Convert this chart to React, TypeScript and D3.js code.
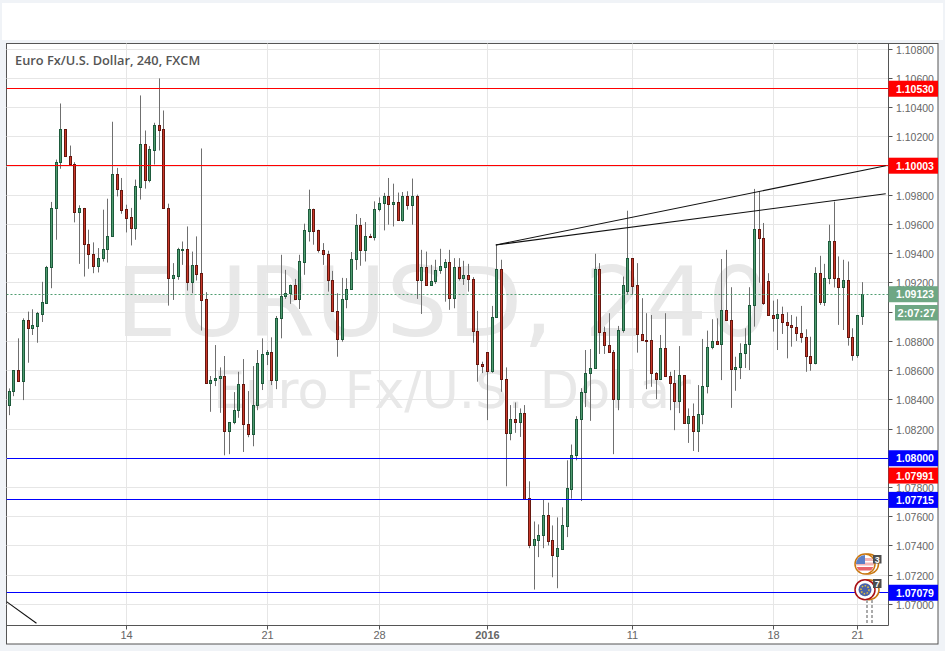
import * as d3 from "d3";

const opens = [
  1.08359, 1.08455, 1.08604, 1.08524, 1.0894, 1.08887, 1.08901, 1.08986, 1.09061, 1.09306,
  1.09707, 1.10023, 1.10251, 1.10064, 1.10009, 1.0968, 1.09707, 1.09466, 1.09397, 1.09313,
  1.0937, 1.09432, 1.09519, 1.09942, 1.09832, 1.09702, 1.09645, 1.09574, 1.09855, 1.10148,
  1.09903, 1.10109, 1.10278, 1.10251, 1.09707, 1.0923, 1.09244, 1.09422, 1.09432, 1.09203,
  1.09318, 1.09263, 1.09084, 1.0851, 1.0853, 1.08545, 1.08561, 1.08181, 1.08242, 1.08325,
  1.08506, 1.08231, 1.0816, 1.08359, 1.0851, 1.08709, 1.08725, 1.0853, 1.08956, 1.09107,
  1.09125, 1.0918, 1.09089, 1.09343, 1.09553, 1.097, 1.09558, 1.09422, 1.09397, 1.09219,
  1.09007, 1.08812, 1.09089, 1.09158, 1.09364, 1.09592, 1.09422, 1.09521, 1.09512, 1.097,
  1.09741, 1.09791, 1.09738, 1.09748, 1.09626, 1.09791, 1.09732, 1.09791, 1.09217, 1.09308,
  1.09182, 1.0921, 1.09288, 1.09306, 1.09343, 1.09093, 1.09308, 1.0923, 1.09254, 1.09226,
  1.08867, 1.08645, 1.08725, 1.08592, 1.08965, 1.0929, 1.0854, 1.0817, 1.08266, 1.08242,
  1.08307, 1.07723, 1.07405, 1.07437, 1.07469, 1.07607, 1.07435, 1.07329, 1.07377, 1.07535,
  1.07789, 1.08016, 1.08266, 1.08448, 1.08581, 1.08612, 1.0929, 1.0886, 1.08773, 1.08725,
  1.084, 1.08874, 1.09141, 1.0937, 1.0918, 1.08849, 1.08808, 1.08808, 1.08581, 1.0854,
  1.08753, 1.08558, 1.08513, 1.08386, 1.08568, 1.08235, 1.08286, 1.08181, 1.08297, 1.08489,
  1.08757, 1.08801, 1.08778, 1.09014, 1.08945, 1.08606, 1.0862, 1.08718, 1.08778, 1.09045,
  1.09563, 1.09508, 1.09213, 1.0898, 1.08956, 1.08986, 1.08931, 1.08911, 1.08897, 1.08856,
  1.08828, 1.08695, 1.08652, 1.09267, 1.09064, 1.0923, 1.09487, 1.0923, 1.09169, 1.09219,
  1.08828, 1.08702, 1.0897,
];

const highs = [
  1.08478, 1.08604, 1.08821, 1.08958, 1.09004, 1.0902, 1.09002, 1.09208, 1.09317, 1.09755,
  1.10045, 1.10429, 1.10251, 1.10141, 1.10027, 1.09732, 1.09714, 1.09565, 1.09478, 1.09439,
  1.09702, 1.09777, 1.10304, 1.09988, 1.09919, 1.09736, 1.09714, 1.09908, 1.10484, 1.10244,
  1.10137, 1.10297, 1.10601, 1.10381, 1.09743, 1.09336, 1.09441, 1.09484, 1.09587, 1.09415,
  1.09519, 1.10121, 1.09137, 1.08563, 1.08775, 1.08622, 1.087, 1.08245, 1.08453, 1.08592,
  1.08679, 1.0846, 1.08631, 1.08741, 1.08821, 1.08741, 1.08828, 1.08974, 1.09393, 1.0929,
  1.09189, 1.09228, 1.09393, 1.09606, 1.09839, 1.09709, 1.09565, 1.09473, 1.09421, 1.09283,
  1.0913, 1.09235, 1.09233, 1.09412, 1.09672, 1.09645, 1.09617, 1.09537, 1.09759, 1.09786,
  1.09817, 1.09919, 1.0988, 1.09819, 1.09823, 1.09828, 1.09915, 1.09805, 1.09427, 1.09415,
  1.09324, 1.09359, 1.09434, 1.09364, 1.09427, 1.0937, 1.0937, 1.09352, 1.09331, 1.0924,
  1.09009, 1.08661, 1.08725, 1.09043, 1.09462, 1.09359, 1.08622, 1.08364, 1.08382, 1.08341,
  1.08364, 1.07842, 1.07567, 1.07547, 1.07719, 1.07696, 1.0754, 1.07595, 1.07664, 1.07986,
  1.08094, 1.08288, 1.0848, 1.08741, 1.08748, 1.094, 1.09336, 1.08901, 1.08993, 1.08741,
  1.08906, 1.09244, 1.09695, 1.0937, 1.09336, 1.09096, 1.08993, 1.08981, 1.0859, 1.08844,
  1.08993, 1.08592, 1.08604, 1.08768, 1.08568, 1.08341, 1.08375, 1.08501, 1.08817, 1.08874,
  1.08952, 1.08958, 1.09364, 1.09427, 1.09171, 1.08695, 1.08787, 1.0889, 1.09171, 1.09844,
  1.09828, 1.09611, 1.09267, 1.09079, 1.09089, 1.09038, 1.09, 1.08981, 1.0897, 1.09043,
  1.08883, 1.08832, 1.09308, 1.09386, 1.09331, 1.09599, 1.09757, 1.09382, 1.09359, 1.09347,
  1.0889, 1.08981, 1.09206,
];

const lows = [
  1.08295, 1.08425, 1.08524, 1.08398, 1.08654, 1.08844, 1.08791, 1.08933, 1.09057, 1.09164,
  1.09496, 1.09982, 1.10064, 1.10009, 1.09615, 1.09331, 1.09244, 1.09297, 1.09267, 1.09272,
  1.09347, 1.0934, 1.09519, 1.09793, 1.09674, 1.09546, 1.09457, 1.09496, 1.09771, 1.09846,
  1.09889, 1.10011, 1.10107, 1.09707, 1.09045, 1.09084, 1.09222, 1.09324, 1.09148, 1.0913,
  1.09217, 1.08874, 1.0851, 1.08318, 1.08494, 1.08311, 1.0802, 1.08028, 1.08233, 1.08277,
  1.08043, 1.08144, 1.08082, 1.08329, 1.08467, 1.08638, 1.08501, 1.08473, 1.08821, 1.09091,
  1.09057, 1.09084, 1.09022, 1.09256, 1.09484, 1.09462, 1.09408, 1.09324, 1.09141, 1.09004,
  1.08695, 1.08798, 1.09027, 1.09158, 1.0929, 1.09318, 1.09347, 1.09515, 1.09491, 1.0969,
  1.0956, 1.09599, 1.09587, 1.09628, 1.0962, 1.09702, 1.09599, 1.09091, 1.08988, 1.09182,
  1.09182, 1.09194, 1.09263, 1.09072, 1.09016, 1.09027, 1.09217, 1.09187, 1.09141, 1.08791,
  1.08524, 1.08583, 1.08261, 1.08585, 1.08965, 1.08455, 1.07808, 1.08123, 1.08174, 1.08146,
  1.07719, 1.07384, 1.07101, 1.07323, 1.07384, 1.07403, 1.07185, 1.0711, 1.07377, 1.0746,
  1.07723, 1.07986, 1.07707, 1.0835, 1.08256, 1.08612, 1.08714, 1.08714, 1.08721, 1.08028,
  1.08329, 1.0886, 1.09125, 1.09119, 1.08723, 1.08805, 1.08473, 1.08489, 1.08405, 1.08535,
  1.08558, 1.08329, 1.08192, 1.08309, 1.08235, 1.08105, 1.0805, 1.08043, 1.08233, 1.08444,
  1.08746, 1.08778, 1.08535, 1.08945, 1.08345, 1.08462, 1.08542, 1.08618, 1.08604, 1.08901,
  1.09201, 1.0905, 1.08977, 1.08867, 1.08741, 1.08851, 1.08684, 1.08764, 1.08803, 1.08791,
  1.08592, 1.08599, 1.08643, 1.0905, 1.09043, 1.09192, 1.09169, 1.08913, 1.08878, 1.08771,
  1.08668, 1.08688, 1.08913,
];

const closes = [
  1.0846, 1.08604, 1.08524, 1.0894, 1.08887, 1.08906, 1.08988, 1.09068, 1.09308, 1.09707,
  1.10023, 1.10251, 1.10064, 1.10009, 1.0968, 1.09707, 1.09463, 1.09397, 1.09313, 1.0937,
  1.09432, 1.09519, 1.09942, 1.09841, 1.09697, 1.09642, 1.09574, 1.0986, 1.10148, 1.09903,
  1.10114, 1.10278, 1.10246, 1.09707, 1.09233, 1.09249, 1.09427, 1.09432, 1.09203, 1.09318,
  1.09258, 1.09079, 1.0851, 1.08533, 1.08547, 1.08561, 1.08181, 1.08245, 1.08327, 1.08506,
  1.08228, 1.0816, 1.08362, 1.0865, 1.08712, 1.08725, 1.0853, 1.08958, 1.09109, 1.0913,
  1.0918, 1.09084, 1.09345, 1.09558, 1.097, 1.09553, 1.09422, 1.09395, 1.09217, 1.09004,
  1.08812, 1.09089, 1.09158, 1.09364, 1.09592, 1.09422, 1.09521, 1.09515, 1.097, 1.09741,
  1.09791, 1.09738, 1.09748, 1.09628, 1.09791, 1.09732, 1.09791, 1.09217, 1.09308, 1.09182,
  1.09213, 1.09288, 1.09311, 1.09343, 1.09091, 1.09308, 1.0923, 1.09254, 1.09226, 1.08867,
  1.0864, 1.08626, 1.08592, 1.08965, 1.0929, 1.0854, 1.0817, 1.08266, 1.08242, 1.08307,
  1.07719, 1.07405, 1.07442, 1.07469, 1.07607, 1.07432, 1.07332, 1.07382, 1.07538, 1.07792,
  1.08016, 1.08266, 1.08451, 1.08581, 1.08615, 1.0929, 1.0886, 1.08771, 1.08723, 1.084,
  1.08876, 1.09185, 1.0937, 1.09176, 1.08844, 1.08805, 1.08803, 1.08581, 1.0854, 1.08753,
  1.08558, 1.0851, 1.08386, 1.08568, 1.08235, 1.08286, 1.08181, 1.083, 1.08492, 1.0876,
  1.08801, 1.08778, 1.09014, 1.08945, 1.08606, 1.08622, 1.08718, 1.0878, 1.09048, 1.09563,
  1.09505, 1.09059, 1.08977, 1.08956, 1.08986, 1.08928, 1.08908, 1.08894, 1.08853, 1.08826,
  1.08695, 1.08652, 1.09267, 1.09064, 1.09233, 1.09487, 1.0923, 1.09171, 1.09219, 1.08826,
  1.08702, 1.08974, 1.09123,
];

const priceTicks = [
  1.108, 1.106, 1.104, 1.102, 1.1, 1.098, 1.096, 1.094, 1.092, 1.09, 1.088, 1.086, 1.084,
  1.082, 1.08, 1.078, 1.076, 1.074, 1.072, 1.07,
];
const timeTickLabels = ["14", "21", "28", "2016", "11", "18", "21"];
const timeTickIndexes = [25, 55, 79, 102, 133, 163, 181];

const levelPrices = [1.1053, 1.10003, 1.08, 1.07715, 1.07079];
const levelColors = ["#ff0000", "#ff0000", "#0000ff", "#0000ff", "#0000ff"];
const lastPrice = 1.09123;
const prevDayPrice = 1.07991;

// trend lines, as [bar index, price] pairs
const trendLines = [
  [[103.8, 1.0946], [187, 1.10003]],
  [[103.8, 1.0946], [187, 1.09811]],
  [[-0.6, 1.07018], [5.8, 1.0687]],
];

const plot = { left: 6.5, right: 888.5, top: 43.5, bottom: 625.5 };
const green = "#4f9c70";
const greenEdge = "#1d5a3b";
const red = "#c9392a";
const redEdge = "#66170f";
const wick = "#6f6f6f";
const axisColor = "#555555";
const gridColor = "#e6e6e6";
const labelFont = "'Liberation Sans', Arial, sans-serif";
const watermarkFont = "'DejaVu Sans', sans-serif";

const x = d3.scaleLinear().domain([0, 182]).range([9.3, 862.3]);
const y = d3.scaleLinear().domain([1.07, 1.108]).range([604.3, 49.3]);
const line = d3
  .line<number[]>()
  .x((d) => x(d[0]))
  .y((d) => y(d[1]));

const snapX = (i: number) => Math.floor(x(i)) + 0.5;
const snapY = (p: number) => Math.floor(y(p)) + 0.5;
const fmt = d3.format(".5f");

function PriceBox({ price, color, dy = 0 }: { price: number; color: string; dy?: number }) {
  const cy = y(price) + dy;
  return (
    <g>
      <rect x={plot.right} y={cy - 8} width={49.5} height={16} fill={color} />
      <text
        x={896}
        y={cy + 4}
        fill="white"
        fontFamily={labelFont}
        fontSize="10.5"
        fontWeight="bold"
      >
        {fmt(price)}
      </text>
    </g>
  );
}

export default function App() {
  return (
    <svg
      width="945"
      height="651"
      style={{ position: "absolute", left: 0, top: 0, display: "block", background: "#f0f3f7" }}
    >
      <defs>
        <clipPath id="plot">
          <rect
            x={plot.left}
            y={plot.top}
            width={plot.right - plot.left}
            height={plot.bottom - plot.top}
          />
        </clipPath>
        <clipPath id="flag">
          <circle cx="865" cy="564" r="9" />
        </clipPath>
      </defs>

      {/* top band and chart frame */}
      <rect x="2" y="3" width="941" height="37" fill="white" />
      <rect x="6.5" y="43.5" width="931.5" height="600.5" fill="white" stroke={axisColor} />

      {/* watermark */}
      <text x="115.5" y="336" fill="#e8e8e8" fontFamily={watermarkFont} fontSize="97">
        EURUSD, 240
      </text>
      <text x="213" y="408" fill="#e8e8e8" fontFamily={watermarkFont} fontSize="51">
        Euro Fx/U.S. Dollar
      </text>

      {/* grid */}
      {priceTicks.map((t) => (
        <line
          key={t}
          x1={plot.left}
          x2={plot.right}
          y1={snapY(t)}
          y2={snapY(t)}
          stroke={gridColor}
        />
      ))}
      {timeTickIndexes.map((i) => (
        <line
          key={i}
          x1={snapX(i)}
          x2={snapX(i)}
          y1={plot.top}
          y2={plot.bottom}
          stroke={gridColor}
        />
      ))}

      <g clipPath="url(#plot)">
        {/* candles */}
        {opens.map((o, i) => {
          const c = closes[i];
          const up = c >= o;
          const top = snapY(Math.max(o, c));
          const bottom = snapY(Math.min(o, c));
          return (
            <g key={i}>
              <line
                x1={snapX(i)}
                x2={snapX(i)}
                y1={y(highs[i])}
                y2={y(lows[i])}
                stroke={wick}
              />
              <rect
                x={snapX(i) - 1}
                y={top}
                width={2}
                height={Math.max(bottom - top, 1)}
                fill={up ? green : red}
                stroke={up ? greenEdge : redEdge}
              />
            </g>
          );
        })}

        {/* horizontal levels */}
        {levelPrices.map((p, i) => (
          <line
            key={p}
            x1={plot.left}
            x2={plot.right}
            y1={snapY(p)}
            y2={snapY(p)}
            stroke={levelColors[i]}
          />
        ))}

        {/* last price */}
        <line
          x1={plot.left}
          x2={plot.right}
          y1={snapY(lastPrice)}
          y2={snapY(lastPrice)}
          stroke="#4f9c70"
          strokeDasharray="2 2"
        />

        {/* trend lines */}
        {trendLines.map((t, i) => (
          <path key={i} d={line(t) ?? ""} fill="none" stroke="#111111" strokeWidth="1.1" />
        ))}
      </g>

      {/* title */}
      <text
        x="15"
        y="65"
        fill="#555555"
        fontFamily="'Open Sans', sans-serif"
        fontSize="12.8"
        fontWeight="600"
      >
        Euro Fx/U.S. Dollar, 240, FXCM
      </text>

      {/* event markers */}
      <circle cx="868.5" cy="564" r="10" fill="white" stroke="#c9770f" strokeWidth="1.5" />
      <circle cx="865" cy="564" r="10" fill="white" stroke="#c9770f" strokeWidth="1.5" />
      <g clipPath="url(#flag)">
        <rect x="855" y="567" width="20" height="3.5" fill="#e8636b" />
        <rect x="855" y="558" width="20" height="3" fill="#f3b5b5" />
        <rect x="855" y="562.5" width="20" height="3" fill="#f3b5b5" />
        <rect x="856" y="555" width="9" height="9" fill="#5b7fc7" />
      </g>
      <rect x="873" y="555" width="8.5" height="8.5" fill="#4d4d4d" />
      <text x="877.2" y="562.5" textAnchor="middle" fill="white" fontFamily={labelFont} fontSize="9" fontWeight="bold">
        3
      </text>

      <circle cx="869" cy="589.7" r="10" fill="white" stroke="#c9770f" strokeWidth="1.5" />
      <circle cx="865" cy="589.7" r="10" fill="white" stroke="#a80f14" strokeWidth="1.5" />
      <circle cx="865" cy="589.7" r="6.5" fill="#4a62a8" />
      <circle cx="865" cy="589.7" r="4" fill="none" stroke="#e8c23a" strokeWidth="1.5" strokeDasharray="1.5 1.5" />
      <rect x="873" y="579" width="8.5" height="9" fill="#4d4d4d" />
      <text x="877.2" y="587" textAnchor="middle" fill="white" fontFamily={labelFont} fontSize="9" fontWeight="bold">
        7
      </text>
      <line x1="867" x2="867" y1="600" y2="625" stroke="#aaaaaa" strokeWidth="2" strokeDasharray="3 2" />
      <line x1="872" x2="872" y1="600" y2="625" stroke="#aaaaaa" strokeWidth="2" strokeDasharray="3 2" />

      {/* price axis */}
      <line x1={plot.right} x2={plot.right} y1={plot.top} y2={plot.bottom} stroke={axisColor} />
      {priceTicks.map((t) => (
        <g key={t}>
          <line x1={plot.right} x2={plot.right + 4} y1={snapY(t)} y2={snapY(t)} stroke={axisColor} />
          <text x={896} y={y(t) + 4.5} fill="#666666" fontFamily={labelFont} fontSize="10.5">
            {fmt(t)}
          </text>
        </g>
      ))}

      {/* time axis */}
      <line x1={plot.left} x2={plot.right} y1={plot.bottom} y2={plot.bottom} stroke={axisColor} />
      {timeTickIndexes.map((i, k) => (
        <g key={i}>
          <line x1={snapX(i)} x2={snapX(i)} y1={plot.bottom} y2={plot.bottom + 4} stroke={axisColor} />
          <text
            x={snapX(i)}
            y={639}
            textAnchor="middle"
            fill="#666666"
            fontFamily={labelFont}
            fontSize="11"
            fontWeight={timeTickLabels[k] === "2016" ? "bold" : "normal"}
          >
            {timeTickLabels[k]}
          </text>
        </g>
      ))}

      {/* level and price boxes */}
      {levelPrices.map((p, i) => (
        <PriceBox key={p} price={p} color={levelColors[i]} />
      ))}
      <PriceBox price={prevDayPrice} color="#ff0000" dy={16} />
      <PriceBox price={lastPrice} color="#6fa784" />
      <rect x="895" y="305" width="43" height="15.5" fill="#6fa784" />
      <text x="916.5" y="317" textAnchor="middle" fill="white" fontFamily={labelFont} fontSize="11" fontWeight="bold">
        2:07:27
      </text>
    </svg>
  );
}
